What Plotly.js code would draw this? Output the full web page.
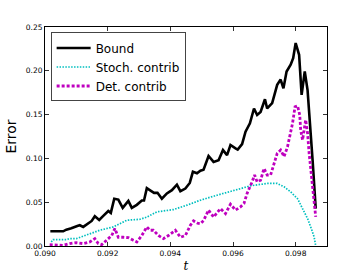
<!DOCTYPE html>
<html>
<head>
<meta charset="utf-8">
<script src="https://cdn.plot.ly/plotly-3.0.1.min.js"></script>
<style>html,body{margin:0;padding:0;background:#fff;}#chart{width:363px;height:273px;}</style>
</head>
<body>
<div id="chart"></div>
<script>
const boundT = [0.09017,0.09058,0.09068,0.09084,0.09103,0.09111,0.09122,0.09135,0.09149,0.09159,0.09173,0.09186,0.09202,0.09210,0.09221,0.09234,0.09248,0.09266,0.09277,0.09293,0.09309,0.09316,0.09325,0.09338,0.09348,0.09359,0.09373,0.09389,0.09405,0.09421,0.09432,0.09448,0.09462,0.09472,0.09485,0.09496,0.09506,0.09522,0.09538,0.09554,0.09568,0.09581,0.09592,0.09608,0.09615,0.09629,0.09640,0.09654,0.09667,0.09677,0.09688,0.09702,0.09709,0.09725,0.09741,0.09752,0.09761,0.09771,0.09784,0.09792,0.09800,0.09811,0.09819,0.09829,0.09838,0.09854,0.09864];
const boundY = [0.0168,0.0168,0.0187,0.0202,0.0229,0.0237,0.0218,0.0252,0.0286,0.0340,0.0298,0.0344,0.0400,0.0378,0.0540,0.0530,0.0435,0.0515,0.0435,0.0470,0.0520,0.0520,0.0660,0.0630,0.0607,0.0607,0.0540,0.0600,0.0637,0.0700,0.0626,0.0656,0.0720,0.0847,0.0830,0.0860,0.0870,0.1027,0.0960,0.0980,0.1095,0.1038,0.1153,0.1115,0.1100,0.1164,0.1305,0.1400,0.1570,0.1496,0.1530,0.1675,0.1570,0.1630,0.1840,0.1900,0.1800,0.1992,0.2070,0.2145,0.2317,0.2183,0.1725,0.1992,0.1780,0.0980,0.0427];

const stochT = [0.09020,0.09026,0.09068,0.09079,0.09100,0.09132,0.09175,0.09218,0.09261,0.09303,0.09325,0.09357,0.09410,0.09453,0.09496,0.09549,0.09603,0.09656,0.09709,0.09741,0.09763,0.09784,0.09806,0.09822,0.09838,0.09850,0.09859,0.09864];
const stochY = [0.0046,0.0073,0.0073,0.0084,0.0084,0.0122,0.0180,0.0218,0.0294,0.0305,0.0330,0.0390,0.0416,0.0466,0.0523,0.0580,0.0637,0.0687,0.0714,0.0714,0.0676,0.0618,0.0540,0.0427,0.0313,0.0198,0.0103,0.0000];

const detT = [0.09015,0.09036,0.09058,0.09079,0.09100,0.09122,0.09143,0.09159,0.09170,0.09181,0.09197,0.09213,0.09223,0.09234,0.09250,0.09266,0.09282,0.09293,0.09309,0.09325,0.09335,0.09346,0.09362,0.09378,0.09394,0.09416,0.09432,0.09448,0.09464,0.09474,0.09487,0.09496,0.09506,0.09522,0.09538,0.09560,0.09576,0.09592,0.09608,0.09624,0.09635,0.09645,0.09661,0.09669,0.09677,0.09688,0.09699,0.09709,0.09720,0.09731,0.09741,0.09752,0.09763,0.09774,0.09784,0.09790,0.09798,0.09806,0.09813,0.09816,0.09822,0.09827,0.09832,0.09838,0.09843,0.09854,0.09864];
const detY = [0.0015,0.0015,0.0008,0.0027,0.0038,0.0027,0.0046,0.0084,0.0027,0.0015,0.0065,0.0120,0.0200,0.0100,0.0100,0.0095,0.0065,0.0046,0.0120,0.0218,0.0180,0.0180,0.0120,0.0084,0.0120,0.0180,0.0100,0.0120,0.0237,0.0286,0.0260,0.0255,0.0290,0.0410,0.0330,0.0427,0.0370,0.0477,0.0410,0.0447,0.0485,0.0600,0.0733,0.0810,0.0733,0.0750,0.0885,0.0810,0.0810,0.0940,0.1057,0.1095,0.1020,0.1133,0.1286,0.1400,0.1590,0.1600,0.1496,0.1324,0.1210,0.1340,0.1440,0.1286,0.1057,0.0676,0.0332];

const xTicks = [0.090,0.092,0.094,0.096,0.098];
const xTickText = ['0.090','0.092','0.094','0.096','0.098'];
const yTicks = [0.00,0.05,0.10,0.15,0.20,0.25];
const yTickText = ['0.00','0.05','0.10','0.15','0.20','0.25'];

const traces = [
  {x: boundT, y: boundY, name: 'Bound', mode: 'lines', line: {color: '#000000', width: 2.6}},
  {x: stochT, y: stochY, name: 'Stoch. contrib', mode: 'lines', line: {color: '#00BFBF', width: 1.7, dash: '1.5px,1.4px'}},
  {x: detT, y: detY, name: 'Det. contrib', mode: 'lines', line: {color: '#BF00BF', width: 2.8, dash: '3px,2px'}}
];

const axisCommon = {
  showline: true, mirror: 'allticks', linecolor: '#000', linewidth: 1,
  ticks: 'inside', ticklen: 4, tickwidth: 0.8, tickcolor: '#000',
  showgrid: false, zeroline: false,
  tickfont: {family: 'DejaVu Sans', size: 7.5, color: '#000'}
};

const layout = {
  width: 363, height: 273,
  margin: {l: 45, r: 36, t: 27, b: 27},
  paper_bgcolor: '#fff', plot_bgcolor: '#fff',
  showlegend: true,
  legend: {
    x: 0.02, y: 0.975, xanchor: 'left', yanchor: 'top',
    bgcolor: '#fff', bordercolor: '#444', borderwidth: 1,
    font: {family: 'DejaVu Sans', size: 12, color: '#000'},
    itemwidth: 34,
    tracegroupgap: 0
  },
  xaxis: Object.assign({}, axisCommon, {
    range: [0.090, 0.099], tickvals: xTicks, ticktext: xTickText,
    title: {text: '<i>t</i>', font: {family: 'DejaVu Serif', size: 12, color: '#000'}, standoff: 4}
  }),
  yaxis: Object.assign({}, axisCommon, {
    range: [0, 0.25], tickvals: yTicks, ticktext: yTickText,
    title: {text: 'Error', font: {family: 'DejaVu Sans', size: 14, color: '#000'}, standoff: 5}
  })
};

Plotly.newPlot('chart', traces, layout, {displayModeBar: false, staticPlot: true});
</script>
</body>
</html>
